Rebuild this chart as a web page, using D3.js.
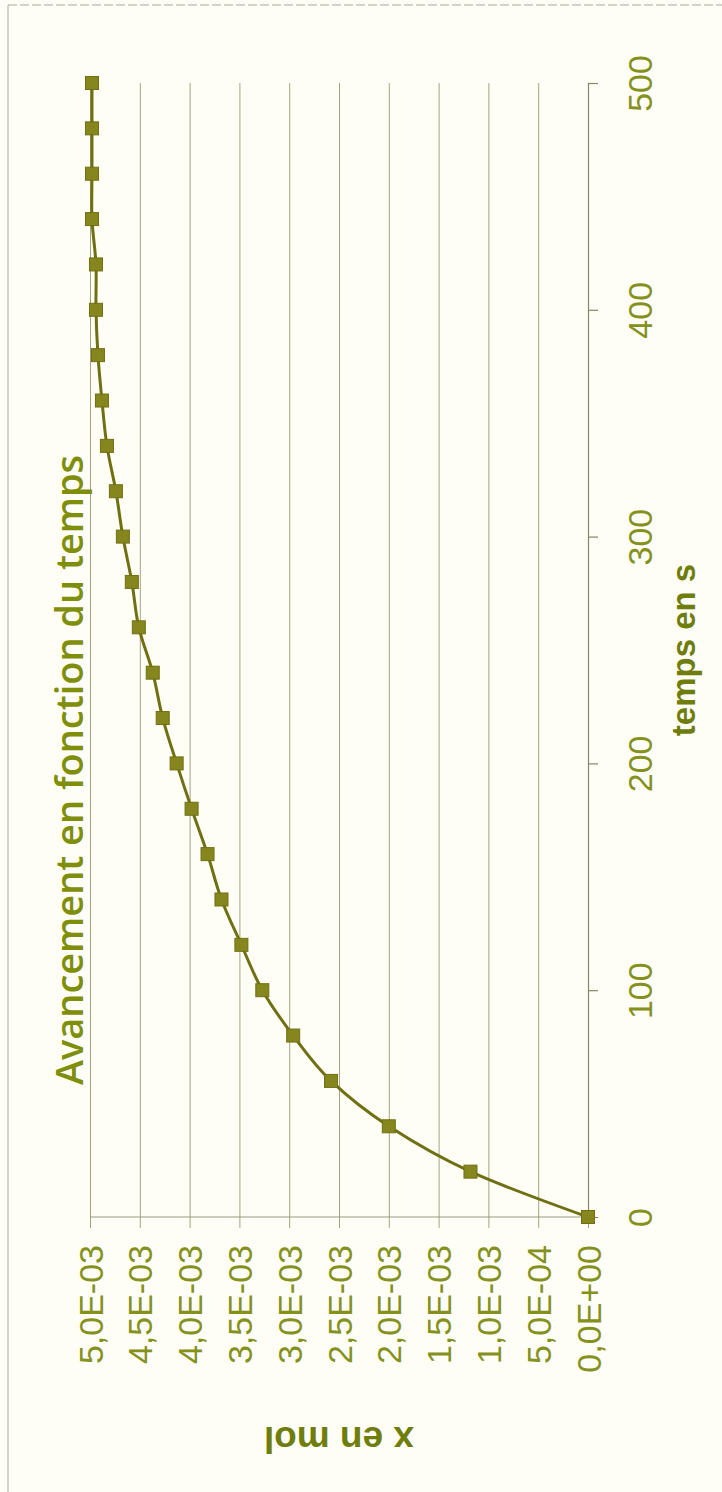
<!DOCTYPE html>
<html lang="fr">
<head>
<meta charset="utf-8">
<title>Avancement en fonction du temps</title>
<script src="https://d3js.org/d3.v7.min.js"></script>
<style>
  body { margin: 0; background: #fffef6; }
  .grid line { stroke: #a3a384; stroke-width: 1; }
  .grid path { display: none; }
  .taxis path, .taxis line { stroke: #86866a; stroke-width: 1.2; }
  .tick-lbl { font-family: "Liberation Sans", Arial, sans-serif; font-size: 34px; fill: #84911c; }
  .ax-title { font-family: "Liberation Sans", Arial, sans-serif; font-weight: bold; fill: #6f7d0c; }
  .title { font-family: "Open Sans", "DejaVu Sans", sans-serif; font-weight: 600; fill: #7f8f0c; }
  .line { fill: none; stroke: #6e7012; stroke-width: 3; }
  .mark { fill: #86861e; stroke: #707012; stroke-width: 1; }
</style>
</head>
<body>
<script>
// temps en s
var times = [0, 20, 40, 60, 80, 100, 120, 140, 160, 180, 200, 220, 240,
             260, 280, 300, 320, 340, 360, 380, 400, 420, 440, 460, 480, 500];
// x en mol
var xMol = [0, 1.18e-3, 2.0e-3, 2.58e-3, 2.96e-3, 3.27e-3, 3.48e-3, 3.68e-3, 3.82e-3,
            3.98e-3, 4.13e-3, 4.27e-3, 4.37e-3, 4.51e-3, 4.58e-3, 4.67e-3, 4.74e-3,
            4.83e-3, 4.88e-3, 4.92e-3, 4.94e-3, 4.94e-3, 4.98e-3, 4.98e-3, 4.98e-3, 4.98e-3];

var molTicks = [0, 5e-4, 1e-3, 1.5e-3, 2e-3, 2.5e-3, 3e-3, 3.5e-3, 4e-3, 4.5e-3, 5e-3];
var molLabels = ["0,0E+00", "5,0E-04", "1,0E-03", "1,5E-03", "2,0E-03", "2,5E-03",
                 "3,0E-03", "3,5E-03", "4,0E-03", "4,5E-03", "5,0E-03"];
var timeTicks = [0, 100, 200, 300, 400, 500];

var W = 722, H = 1492;

// chart is drawn turned a quarter turn: time runs upward, x en mol runs leftward
var xScale = d3.scaleLinear().domain([0, 0.005]).range([588, 90]);
var tScale = d3.scaleLinear().domain([0, 500]).range([1217, 83]);

var svg = d3.select("body").append("svg")
    .attr("width", W)
    .attr("height", H);

svg.append("rect").attr("width", W).attr("height", H).attr("fill", "#fffef6");

// frame of the scan
svg.append("line").attr("x1", 8).attr("x2", 8).attr("y1", 5).attr("y2", H)
    .attr("stroke", "#a8a898").attr("stroke-width", 1);
svg.append("line").attr("x1", 8).attr("x2", W).attr("y1", 5).attr("y2", 5)
    .attr("stroke", "#a8a898").attr("stroke-width", 1).attr("stroke-dasharray", "9,3");

// grid lines for x en mol (also ticks under the axis)
var grid = svg.append("g")
    .attr("class", "grid")
    .attr("transform", "translate(0,1228)")
    .call(d3.axisBottom(xScale).tickValues(molTicks).tickSize(-(1228 - 83)).tickFormat(""));

grid.selectAll(".tick")
    .append("text")
    .attr("class", "tick-lbl")
    .attr("text-anchor", "end")
    .attr("transform", "translate(12,17) rotate(-90)")
    .text(function(d) { return molLabels[molTicks.indexOf(d)]; });

// horizontal zero line
svg.append("line")
    .attr("x1", xScale(0.005)).attr("x2", xScale(0))
    .attr("y1", tScale(0)).attr("y2", tScale(0))
    .attr("stroke", "#9a9a80").attr("stroke-width", 1.2);

// time axis
var taxis = svg.append("g")
    .attr("class", "taxis")
    .attr("transform", "translate(" + xScale(0) + ",0)")
    .call(d3.axisRight(tScale).tickValues(timeTicks).tickSize(10).tickSizeOuter(0).tickFormat(""));

taxis.selectAll(".tick")
    .append("text")
    .attr("class", "tick-lbl")
    .attr("text-anchor", "middle")
    .attr("transform", "translate(64,0) rotate(-90)")
    .text(function(d) { return d; });

// axis titles
svg.append("text")
    .attr("class", "ax-title")
    .attr("font-size", 33)
    .attr("text-anchor", "middle")
    .attr("transform", "translate(695," + tScale(250) + ") rotate(-90)")
    .text("temps en s");

svg.append("text")
    .attr("class", "ax-title")
    .attr("font-size", 37)
    .attr("text-anchor", "middle")
    .attr("transform", "translate(" + xScale(0.0025) + ",1427) rotate(180)")
    .text("x en mol");

// chart title
svg.append("text")
    .attr("class", "title")
    .attr("font-size", 37)
    .attr("text-anchor", "middle")
    .attr("textLength", 630)
    .attr("lengthAdjust", "spacingAndGlyphs")
    .attr("transform", "translate(83,770) rotate(-90)")
    .text("Avancement en fonction du temps");

// series
var data = times.map(function(t, i) { return { t: t, x: xMol[i] }; });

var line = d3.line()
    .x(function(d) { return xScale(d.x); })
    .y(function(d) { return tScale(d.t); })
    .curve(d3.curveCatmullRom.alpha(0));

svg.append("path")
    .datum(data)
    .attr("class", "line")
    .attr("d", line);

var s = 13;
svg.selectAll(".mark")
    .data(data)
    .enter()
    .append("rect")
    .attr("class", "mark")
    .attr("x", function(d) { return xScale(d.x) - s / 2; })
    .attr("y", function(d) { return tScale(d.t) - s / 2; })
    .attr("width", s)
    .attr("height", s);
</script>
</body>
</html>
